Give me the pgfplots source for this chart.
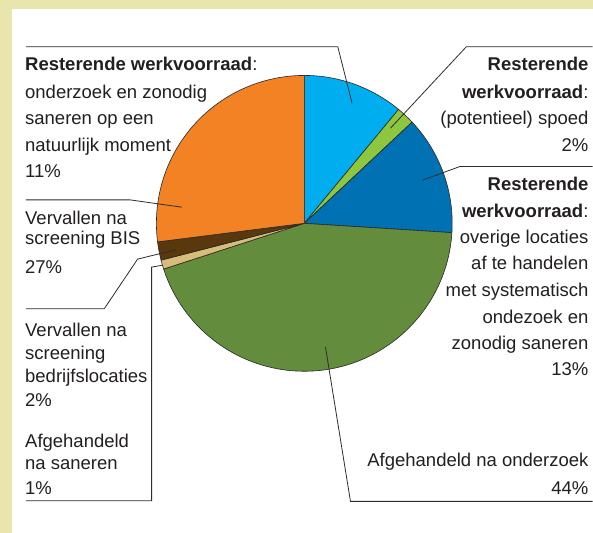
\documentclass[border=0pt]{standalone}
\usepackage{fontspec}
\setmainfont{Liberation Sans}
\usepackage{pgfplots}
\usepackage{pgfplotstable}
\pgfplotsset{compat=1.18}
\definecolor{bgY}{RGB}{232,230,172}
\definecolor{cLB}{RGB}{0,174,239}
\definecolor{cLG}{RGB}{141,198,63}
\definecolor{cDB}{RGB}{0,113,178}
\definecolor{cG}{RGB}{99,140,60}
\definecolor{cTan}{RGB}{216,188,122}
\definecolor{cBr}{RGB}{88,56,12}
\definecolor{cOr}{RGB}{242,130,36}
\definecolor{txt}{RGB}{35,31,32}
\definecolor{lead}{RGB}{45,45,45}
\definecolor{slicel}{RGB}{40,40,40}
\pgfplotstableread{
pct col
11 cLB
2 cLG
13 cDB
44 cG
1 cTan
2 cBr
27 cOr
}\pietable
\begin{document}
\begin{tikzpicture}[font=\fontsize{18.5bp}{22bp}\selectfont]
\begin{axis}[x=1bp,y=1bp,xmin=0,xmax=593,ymin=0,ymax=533,hide axis,scale only axis,clip=false]
\fill[bgY] (axis cs:0,0) rectangle (axis cs:593,533);
\fill[white] (axis cs:12,0) rectangle (axis cs:593,524);
\def\cumul{90}
\pgfplotsforeachungrouped \i in {0,...,6}{%
  \pgfplotstablegetelem{\i}{pct}\of\pietable \let\slicep\pgfplotsretval
  \pgfplotstablegetelem{\i}{col}\of\pietable \let\slicecol\pgfplotsretval
  \pgfmathsetmacro\endang{\cumul-3.6*\slicep}
  \edef\temp{\noexpand\filldraw[fill=\slicecol,draw=slicel,line width=0.6bp] (axis cs:304.5,309.5) -- ++(\cumul:148bp) arc[start angle=\cumul,end angle=\endang,radius=148bp] -- cycle;}
  \temp
  \let\cumul\endang
}
% leader lines
\draw[lead,line width=0.8bp] (axis cs:26,486.3) -- (axis cs:338,486.3) -- (axis cs:352.3,429.7);
\draw[lead,line width=0.8bp] (axis cs:593,486.3) -- (axis cs:466.7,486.3) -- (axis cs:390.7,404.7);
\draw[lead,line width=0.8bp] (axis cs:593,366.3) -- (axis cs:460,366.3) -- (axis cs:422.7,352.7);
\draw[lead,line width=0.8bp] (axis cs:593,31.3) -- (axis cs:350.7,31.3) -- (axis cs:325.7,185.7);
\draw[lead,line width=0.8bp] (axis cs:26,333) -- (axis cs:130,333) -- (axis cs:181.7,325.7);
\draw[lead,line width=0.8bp] (axis cs:26,224) -- (axis cs:104.3,224) -- (axis cs:137.7,273.7) -- (axis cs:175.7,283);
\draw[lead,line width=0.8bp] (axis cs:26,32) -- (axis cs:151.7,32) -- (axis cs:151.7,265.7) -- (axis cs:162,267.5);
% left labels
\begin{scope}[every node/.style={anchor=base west,inner sep=0pt,text=txt}]
\node at (axis cs:25,462.3) {\textbf{Resterende werkvoorraad}:};
\node at (axis cs:25,434.7) {onderzoek en zonodig};
\node at (axis cs:25,408.7) {saneren op een};
\node at (axis cs:25,381.3) {natuurlijk moment};
\node at (axis cs:25,355.3) {11\%};
\node at (axis cs:25,308.7) {Vervallen na};
\node at (axis cs:25,288) {screening BIS};
\node at (axis cs:25,259.7) {27\%};
\node at (axis cs:25,196) {Vervallen na};
\node at (axis cs:25,173) {screening};
\node at (axis cs:25,150) {bedrijfslocaties};
\node at (axis cs:25,126) {2\%};
\node at (axis cs:25,85) {Afgehandeld};
\node at (axis cs:25,63) {na saneren};
\node at (axis cs:25,38) {1\%};
\end{scope}
% right labels
\begin{scope}[every node/.style={anchor=base east,inner sep=0pt,text=txt}]
\node at (axis cs:589,462.3) {\textbf{Resterende}};
\node at (axis cs:589,434.7) {\textbf{werkvoorraad}:};
\node at (axis cs:589,408) {(potentieel) spoed};
\node at (axis cs:589,381.3) {2\%};
\node at (axis cs:589,342.3) {\textbf{Resterende}};
\node at (axis cs:589,315.7) {\textbf{werkvoorraad}:};
\node at (axis cs:589,289.7) {overige locaties};
\node at (axis cs:589,263) {af te handelen};
\node at (axis cs:589,236.3) {met systematisch};
\node at (axis cs:589,209.7) {ondezoek en};
\node at (axis cs:589,183.7) {zonodig saneren};
\node at (axis cs:589,157) {13\%};
\node at (axis cs:589,65.7) {Afgehandeld na onderzoek};
\node at (axis cs:589,38) {44\%};
\end{scope}
\end{axis}
\end{tikzpicture}
\end{document}
